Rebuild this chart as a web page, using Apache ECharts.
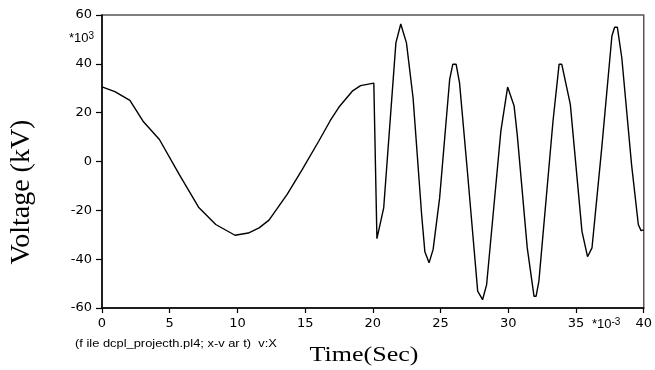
<!DOCTYPE html>
<html>
<head>
<meta charset="utf-8">
<script src="https://cdn.jsdelivr.net/npm/echarts@6/dist/echarts.min.js"></script>
<style>
  html, body { margin: 0; padding: 0; background: #fff; }
  #chart { width: 655px; height: 370px; }
</style>
</head>
<body>
<div id="chart"></div>
<script>
// time in ms (axis shows *10^-3 s), voltage in kV (axis shows *10^3 V)
const timeMs = [
  0, 0.95, 2.06, 3.03, 4.24, 5.7, 7.13, 8.4, 9.82, 10.8, 11.6, 12.33, 13.06, 13.67,
  14.78, 16.0, 16.86, 17.5, 18.48, 19.09, 20.07, 20.3, 20.8, 21.7, 22.06, 22.48,
  22.97, 23.6, 23.84, 24.15, 24.45, 24.93, 25.67, 25.9, 26.15, 26.4, 27.0, 27.74,
  28.1, 28.4, 29.45, 29.95, 30.05, 30.43, 30.66, 31.4, 31.9, 32.05, 32.26, 33.3,
  33.75, 33.95, 34.58, 35.44, 35.85, 35.95, 36.18, 36.9, 37.65, 37.85, 38.05,
  38.38, 39.1, 39.6, 39.8, 40
];
const voltageKV = [
  30.6, 28.6, 25, 16.5, 9, -5.3, -18.7, -25.8, -30.2, -29.3, -27.2, -24, -18.3, -13.5,
  -3.3, 8.3, 16.8, 22.3, 28.8, 31.1, 32.1, -31.6, -19, 48.6, 56.3, 48.6,
  26, -21.7, -37, -41.5, -36, -14.9, 33.6, 39.8, 39.8, 32.2, -5.3, -53.1,
  -56.6, -50.4, 12.4, 30.5, 30.5, 22.7, 11, -35.4, -55.2, -55.2, -49, 16.5,
  39.8, 39.8, 23.4, -28.6, -39, -39, -35.4, 5.6, 51.4, 55, 55,
  42.5, -1.2, -25.8, -28.3, -28
];
const xTicks = { min: 0, max: 40, step: 5 };
const yTicks = { min: -60, max: 60, step: 20 };

const chart = echarts.init(document.getElementById('chart'));

const axisFont = { color: '#000', fontFamily: 'DejaVu Sans, sans-serif', fontSize: 13 };
const sans = '"Liberation Sans", Arial, sans-serif';
const serif = '"Liberation Serif", "Times New Roman", serif';

chart.setOption({
  animation: false,
  backgroundColor: '#fff',
  grid: {
    left: 102,
    right: 8,
    top: 15,
    bottom: 62,
    show: true,
    borderColor: '#555',
    borderWidth: 1.5,
    backgroundColor: 'transparent'
  },
  xAxis: {
    type: 'value',
    min: xTicks.min,
    max: xTicks.max,
    interval: xTicks.step,
    axisLine: { onZero: false, lineStyle: { color: '#000', width: 1.5 } },
    axisTick: { length: 5, lineStyle: { color: '#000', width: 1.2 } },
    axisLabel: { ...axisFont, margin: 9 },
    splitLine: { show: false }
  },
  yAxis: {
    type: 'value',
    min: yTicks.min,
    max: yTicks.max,
    interval: yTicks.step,
    axisLine: { onZero: false, lineStyle: { color: '#000', width: 1.5 } },
    axisTick: { length: 6, lineStyle: { color: '#000', width: 1.2 } },
    axisLabel: { ...axisFont, margin: 10 },
    splitLine: { show: false }
  },
  graphic: [
    {
      type: 'text', x: 69, y: 38,
      style: {
        text: '{a|*10}{b|3}', verticalAlign: 'middle',
        rich: {
          a: { fontSize: 13, fontFamily: sans, fill: '#000', verticalAlign: 'bottom' },
          b: { fontSize: 10, fontFamily: sans, fill: '#000', verticalAlign: 'top' }
        }
      }
    },
    {
      type: 'text', x: 592, y: 324,
      style: {
        text: '{a|*10}{b|-3}', verticalAlign: 'middle',
        rich: {
          a: { fontSize: 13, fontFamily: sans, fill: '#000', verticalAlign: 'bottom' },
          b: { fontSize: 10, fontFamily: sans, fill: '#000', verticalAlign: 'top' }
        }
      }
    },
    {
      type: 'text', x: 75, y: 344, scaleX: 1.12,
      style: { text: '(f ile dcpl_projecth.pl4; x-v ar t)  v:X', fill: '#000', verticalAlign: 'middle', font: '11.5px ' + sans }
    },
    {
      type: 'text', x: 364, y: 356, scaleX: 1.3,
      style: { text: 'Time(Sec)', fill: '#000', align: 'center', verticalAlign: 'middle', font: '20px ' + serif }
    },
    {
      type: 'text', x: 22, y: 192, rotation: Math.PI / 2,
      style: { text: 'Voltage (kV)', fill: '#000', align: 'center', verticalAlign: 'middle', font: '28px ' + serif }
    }
  ],
  series: [
    {
      type: 'line',
      data: timeMs.map((t, i) => [t, voltageKV[i]]),
      showSymbol: false,
      smooth: false,
      lineStyle: { color: '#000', width: 1.4 },
      clip: true
    }
  ]
});
</script>
</body>
</html>
